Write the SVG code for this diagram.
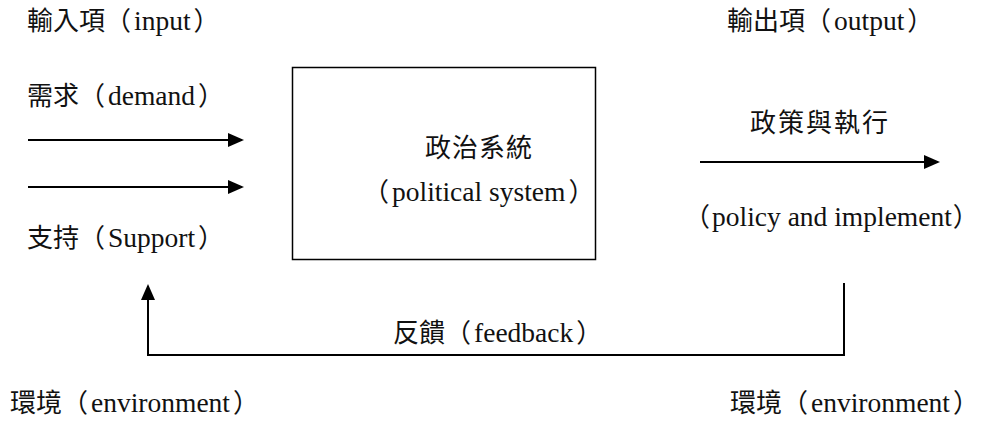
<svg xmlns="http://www.w3.org/2000/svg" width="985" height="423" viewBox="0 0 985 423">
<defs>
<style>
text{font-family:"Liberation Serif","Noto Sans CJK TC","Noto Sans CJK SC",serif;font-size:26px;fill:#111}
.la{font-size:27.5px}
.ln{stroke:#000;stroke-width:2;fill:none}
.box{stroke:#000;stroke-width:1.5;fill:#fff}
</style>
<marker id="ah" markerUnits="userSpaceOnUse" markerWidth="16" markerHeight="14" refX="14" refY="7" orient="auto">
<path d="M0,0 L16,7 L0,14 z" fill="#000"/>
</marker>
</defs>
<rect width="985" height="423" fill="#fff"/>
<g id="connectors">
<line class="ln" x1="28" y1="140" x2="242" y2="140" marker-end="url(#ah)"/>
<line class="ln" x1="28" y1="187" x2="242" y2="187" marker-end="url(#ah)"/>
<line class="ln" x1="700" y1="162" x2="938" y2="162" marker-end="url(#ah)"/>
<path class="ln" d="M844,283 V355 H148 V286" marker-end="url(#ah)"/>
</g>
<g id="input-label"><text x="27" y="30">輸入項（<tspan class="la" dx="3">input</tspan><tspan dx="3">）</tspan></text></g>
<g id="demand"><text x="27" y="105">需求（<tspan class="la" dx="3">demand</tspan><tspan dx="3">）</tspan></text></g>
<g id="support"><text x="27" y="247">支持（<tspan class="la" dx="3">Support</tspan><tspan dx="3">）</tspan></text></g>
<g id="political-system">
<rect class="box" x="292.5" y="67.5" width="303" height="192"/>
<text x="425" y="157" letter-spacing="1">政治系統</text>
<text x="363" y="201">（<tspan class="la" dx="3">political system</tspan><tspan dx="3">）</tspan></text>
</g>
<g id="output-label"><text x="727" y="30">輸出項（<tspan class="la" dx="3">output</tspan><tspan dx="3">）</tspan></text></g>
<g id="policy">
<text x="750" y="132" letter-spacing="2">政策與執行</text>
<text x="684" y="226">（<tspan class="la" dx="2">policy and implement</tspan><tspan dx="1">）</tspan></text>
</g>
<g id="feedback"><text x="393" y="342">反饋（<tspan class="la" dx="3">feedback</tspan><tspan dx="3">）</tspan></text></g>
<g id="env-left"><text x="10" y="412">環境（<tspan class="la" dx="3">environment</tspan><tspan dx="3">）</tspan></text></g>
<g id="env-right"><text x="730" y="412">環境（<tspan class="la" dx="3">environment</tspan><tspan dx="3">）</tspan></text></g>
</svg>
